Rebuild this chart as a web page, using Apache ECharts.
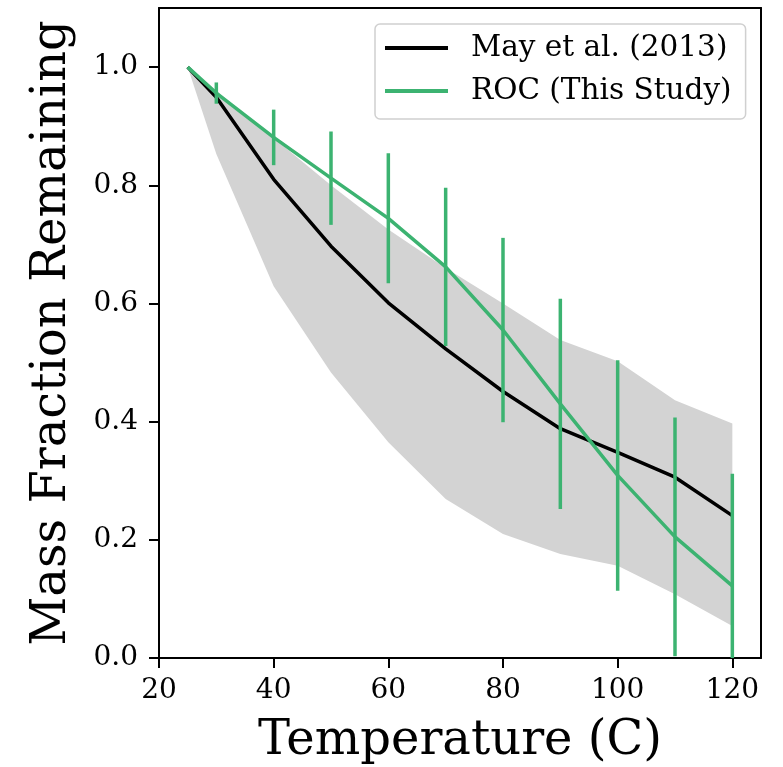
<!DOCTYPE html>
<html><head><meta charset="utf-8">
<script src="https://cdn.jsdelivr.net/npm/echarts@6/dist/echarts.min.js"></script>
<style>html,body{margin:0;padding:0;background:#fff}#c{width:783px;height:767px}</style>
</head><body><div id="c"></div>
<script>
const temps = [25, 30, 40, 50, 60, 70, 80, 90, 100, 110, 120];
const mayMean = [1.0, 0.949, 0.810, 0.697, 0.601, 0.523, 0.451, 0.388, 0.348, 0.306, 0.241];
const mayLower = [1.0, 0.853, 0.629, 0.483, 0.365, 0.269, 0.210, 0.176, 0.156, 0.108, 0.054];
const mayUpper = [1.0, 0.960, 0.880, 0.800, 0.725, 0.660, 0.600, 0.538, 0.502, 0.436, 0.397];
const rocMean = [1.0, 0.956, 0.881, 0.812, 0.744, 0.662, 0.555, 0.430, 0.309, 0.205, 0.122];
const rocErr = [0, 0.018, 0.047, 0.079, 0.110, 0.134, 0.156, 0.178, 0.195, 0.202, 0.190];
const xTicks = [20, 40, 60, 80, 100, 120];
const yTicks = [0.0, 0.2, 0.4, 0.6, 0.8, 1.0];
const seriesNames = ['May et al. (2013)', 'ROC (This Study)'];

const FONT = 'DejaVu Serif';
const GREEN = '#3cb371';
const chart = echarts.init(document.getElementById('c'));

const baseAxis = {
  type: 'value',
  splitLine: {show: false},
  axisLine: {show: true, onZero: false, lineStyle: {color: '#000', width: 2}},
  axisTick: {show: true, inside: false, length: 10, lineStyle: {color: '#000', width: 2}},
};

chart.setOption({
  animation: false,
  backgroundColor: '#fff',
  grid: {left: 159, top: 8, right: 22, bottom: 109, containLabel: false, outerBoundsMode: 'none'},
  xAxis: [
    Object.assign({}, baseAxis, {
      min: 20, max: 125, interval: 20, position: 'bottom',
      axisLabel: {fontFamily: FONT, fontSize: 28, color: '#000', margin: 19, showMaxLabel: false,
        formatter: v => xTicks.includes(v) ? String(v) : ''},
      name: 'Temperature (C)', nameLocation: 'middle', nameGap: 60,
      nameTextStyle: {fontFamily: FONT, fontSize: 48, color: '#000'}
    }),
    Object.assign({}, baseAxis, {
      min: 20, max: 125, position: 'top', axisTick: {show: false}, axisLabel: {show: false}
    })
  ],
  yAxis: [
    Object.assign({}, baseAxis, {
      min: 0, max: 1.1, interval: 0.2, position: 'left',
      axisLabel: {fontFamily: FONT, fontSize: 28, color: '#000', margin: 21, showMaxLabel: false,
        formatter: v => yTicks.some(t => Math.abs(t - v) < 1e-9) ? v.toFixed(1) : ''},
      name: 'Mass Fraction Remaining', nameLocation: 'middle', nameGap: 82, nameRotate: 90,
      nameTextStyle: {fontFamily: FONT, fontSize: 48, color: '#000'}
    }),
    Object.assign({}, baseAxis, {
      min: 0, max: 1.1, position: 'right', axisTick: {show: false}, axisLabel: {show: false}
    })
  ],
  legend: {
    orient: 'vertical', left: 375, top: 24,
    padding: [9, 14, 13, 10],
    backgroundColor: '#fff', borderColor: '#d0d0d0', borderWidth: 1.5, borderRadius: 5,
    itemWidth: 63, itemHeight: 4, itemGap: 13,
    textStyle: {fontFamily: FONT, fontSize: 29.5, color: '#000', lineHeight: 30, padding: [0, 0, 0, 18]},
    data: seriesNames.map(n => ({name: n, icon: 'rect'}))
  },
  series: [
    {
      name: 'band', type: 'custom', clip: true, z: 1, silent: true,
      data: temps.map((t, i) => [t, mayLower[i], mayUpper[i]]),
      encode: {x: 0, y: [1, 2]},
      renderItem: function (params, api) {
        if (params.dataIndex !== 0) return null;
        const pts = [];
        for (let i = 0; i < temps.length; i++) pts.push(api.coord([temps[i], mayUpper[i]]));
        for (let i = temps.length - 1; i >= 0; i--) pts.push(api.coord([temps[i], mayLower[i]]));
        return {type: 'polygon', shape: {points: pts}, style: {fill: '#d3d3d3'}};
      }
    },
    {
      name: seriesNames[0], type: 'line', symbol: 'none', color: '#000',
      lineStyle: {color: '#000', width: 3.5}, z: 3,
      data: temps.map((t, i) => [t, mayMean[i]])
    },
    {
      name: seriesNames[1], type: 'line', symbol: 'none', color: GREEN,
      lineStyle: {color: GREEN, width: 3.5}, z: 4,
      data: temps.map((t, i) => [t, rocMean[i]])
    },
    {
      name: 'rocErr', type: 'custom', clip: true, z: 4, silent: true,
      data: temps.map((t, i) => [t, rocMean[i] - rocErr[i], rocMean[i] + rocErr[i]]).filter((d, i) => rocErr[i] > 0),
      encode: {x: 0, y: [1, 2]},
      renderItem: function (params, api) {
        const p1 = api.coord([api.value(0), api.value(1)]);
        const p2 = api.coord([api.value(0), api.value(2)]);
        return {
          type: 'line',
          shape: {x1: p1[0], y1: p1[1], x2: p2[0], y2: p2[1]},
          style: {stroke: GREEN, lineWidth: 3.5}
        };
      }
    }
  ]
});
</script>
</body></html>
